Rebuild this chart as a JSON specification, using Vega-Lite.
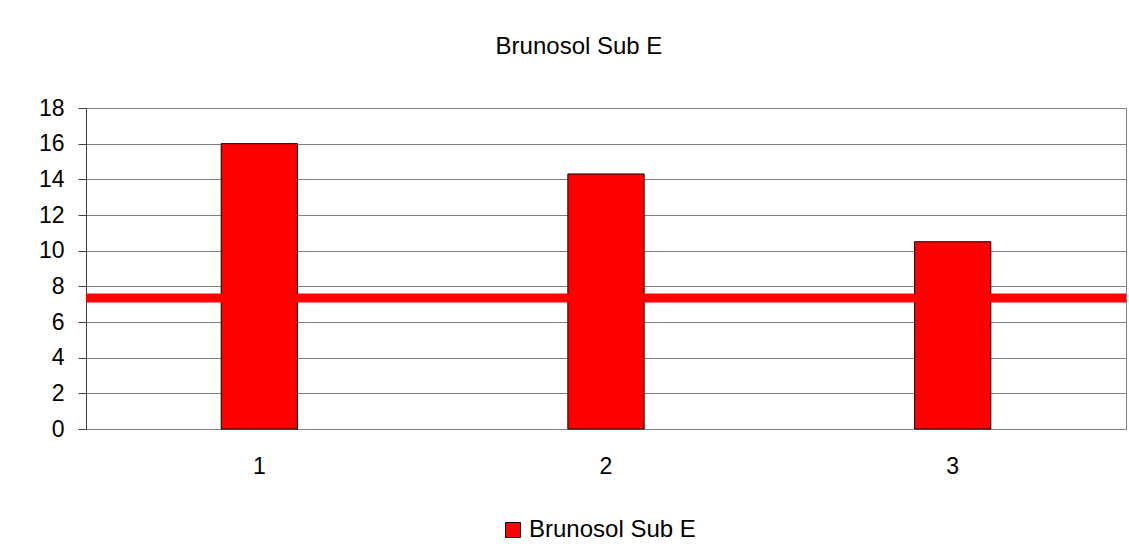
{
  "$schema": "https://vega.github.io/schema/vega-lite/v6.json",
  "autosize": {"type": "none"},
  "padding": {"left": 86, "top": 108, "right": 3, "bottom": 118},
  "width": 1040,
  "height": 321,
  "background": "white",
  "title": {
    "text": "Brunosol Sub E",
    "fontSize": 24,
    "font": "Liberation Sans",
    "fontWeight": "normal",
    "color": "black",
    "anchor": "middle",
    "dx": -27,
    "offset": 19,
    "baseline": "alphabetic"
  },
  "config": {
    "view": {"stroke": "#808080", "strokeWidth": 1},
    "font": "Liberation Sans"
  },
  "datasets": {
    "bars": [
      {"sample": "1", "value": 16.0, "series": "Brunosol Sub E"},
      {"sample": "2", "value": 14.3, "series": "Brunosol Sub E"},
      {"sample": "3", "value": 10.5, "series": "Brunosol Sub E"}
    ],
    "threshold": [{"value": 7.35}]
  },
  "encoding": {
    "y": {
      "field": "value",
      "type": "quantitative",
      "scale": {"domain": [0, 18]},
      "axis": {
        "title": null,
        "values": [0, 2, 4, 6, 8, 10, 12, 14, 16, 18],
        "labelOverlap": false,
        "tickSize": 8,
        "tickColor": "#404040",
        "labelPadding": 14,
        "labelFontSize": 23,
        "labelColor": "black",
        "labelFont": "Liberation Sans",
        "domainColor": "#404040",
        "grid": true,
        "gridColor": "#808080",
        "gridWidth": 1,
        "gridOpacity": 1
      }
    }
  },
  "layer": [
    {
      "data": {"name": "bars"},
      "mark": {"type": "bar", "stroke": "black", "strokeWidth": 1},
      "encoding": {
        "x": {
          "field": "sample",
          "type": "ordinal",
          "scale": {"paddingInner": 0.78, "paddingOuter": 0.39},
          "axis": {
            "title": null,
            "labelAngle": 0,
            "ticks": false,
            "labelPadding": 26,
            "labelFontSize": 23,
            "labelColor": "black",
            "labelFont": "Liberation Sans",
            "domainColor": "#808080",
            "domainWidth": 1,
            "grid": false
          }
        },
        "color": {
          "field": "series",
          "type": "nominal",
          "scale": {"range": ["#FF0000"]},
          "legend": {
            "title": null,
            "orient": "none",
            "legendX": 415,
            "legendY": 410,
            "direction": "horizontal",
            "symbolType": "square",
            "symbolSize": 225,
            "symbolStrokeColor": "black",
            "symbolStrokeWidth": 1,
            "symbolOpacity": 1,
            "labelFontSize": 24,
            "labelLimit": 400,
            "labelFont": "Liberation Sans",
            "labelColor": "black"
          }
        }
      }
    },
    {
      "data": {"name": "threshold"},
      "mark": {"type": "rule", "color": "#FF0000", "strokeWidth": 9}
    }
  ]
}
